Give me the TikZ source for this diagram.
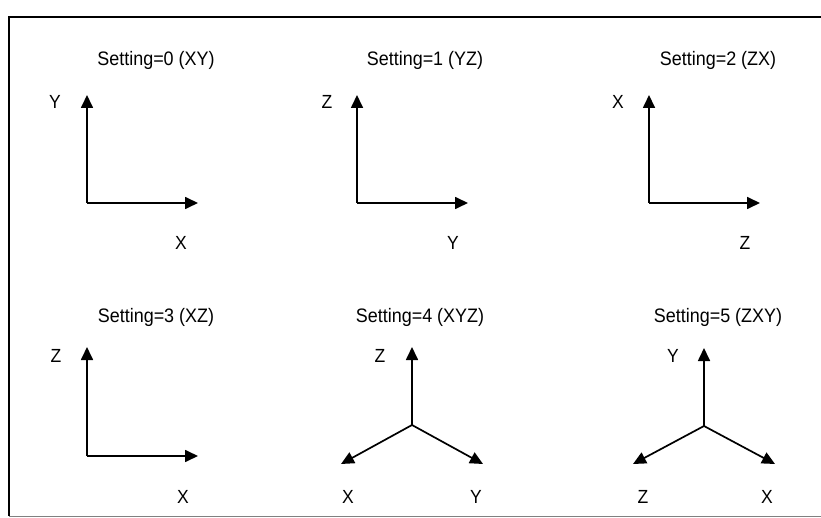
\documentclass[tikz,border=0pt]{standalone}
\usepackage{fontspec}
\setmainfont[FakeStretch=0.92]{Liberation Sans}
\usetikzlibrary{arrows.meta, positioning}

\begin{document}
\begin{tikzpicture}[
    x=1pt, y=-1pt,
    axis/.style={-{Triangle[length=13pt, width=12pt]}, line width=1.7pt},
    title/.style={font=\fontsize{19.5}{21}\selectfont, inner sep=0pt, anchor=base},
    lbl/.style={font=\fontsize{19}{21}\selectfont, inner sep=0pt, anchor=base}
]
\useasboundingbox (0,0) rectangle (821,518);

% Frame
\draw[line width=2pt] (830,17) -- (9,17) -- (9,516);
\draw[gray, line width=1pt] (9,516.5) -- (830,516.5);

% Setting=0
\node[title] (t0) at (156,66) {Setting=0 (XY)};
\coordinate (o0) at (87,203);
\coordinate (v0) at (87,95);
\coordinate (h0) at (198,203);
\draw[axis] (o0) -- (v0);
\draw[axis] (o0) -- (h0);
\node[lbl] (v0l) at (55,109) {Y};
\node[lbl] (h0l) at (181,250) {X};

% Setting=1
\node[title] (t1) at (425,66) {Setting=1 (YZ)};
\coordinate (o1) at (357,203);
\coordinate (v1) at (357,95);
\coordinate (h1) at (468,203);
\draw[axis] (o1) -- (v1);
\draw[axis] (o1) -- (h1);
\node[lbl] (v1l) at (327,109) {Z};
\node[lbl] (h1l) at (453,250) {Y};

% Setting=2
\node[title] (t2) at (718,66) {Setting=2 (ZX)};
\coordinate (o2) at (649,203);
\coordinate (v2) at (649,95);
\coordinate (h2) at (760,203);
\draw[axis] (o2) -- (v2);
\draw[axis] (o2) -- (h2);
\node[lbl] (v2l) at (618,109) {X};
\node[lbl] (h2l) at (745,250) {Z};

% Setting=3
\node[title] (t3) at (156,322) {Setting=3 (XZ)};
\coordinate (o3) at (87,456);
\coordinate (v3) at (87,347);
\coordinate (h3) at (198,456);
\draw[axis] (o3) -- (v3);
\draw[axis] (o3) -- (h3);
\node[lbl] (v3l) at (56,362) {Z};
\node[lbl] (h3l) at (183,503) {X};

% Setting=4
\node[title] (t4) at (420,322) {Setting=4 (XYZ)};
\coordinate (o4) at (412,425);
\coordinate (u4) at (412,347);
\coordinate (l4) at (341,464);
\coordinate (r4) at (483,464);
\draw[axis] (o4) -- (u4);
\draw[axis] (o4) -- (l4);
\draw[axis] (o4) -- (r4);
\node[lbl] (u4l) at (380,362) {Z};
\node[lbl] (l4l) at (348,503) {X};
\node[lbl] (r4l) at (476,503) {Y};

% Setting=5
\node[title] (t5) at (718,322) {Setting=5 (ZXY)};
\coordinate (o5) at (704,426);
\coordinate (u5) at (704,348);
\coordinate (l5) at (633,464);
\coordinate (r5) at (775,464);
\draw[axis] (o5) -- (u5);
\draw[axis] (o5) -- (l5);
\draw[axis] (o5) -- (r5);
\node[lbl] (u5l) at (673,362) {Y};
\node[lbl] (l5l) at (643,503) {Z};
\node[lbl] (r5l) at (767,503) {X};

\end{tikzpicture}
\end{document}
